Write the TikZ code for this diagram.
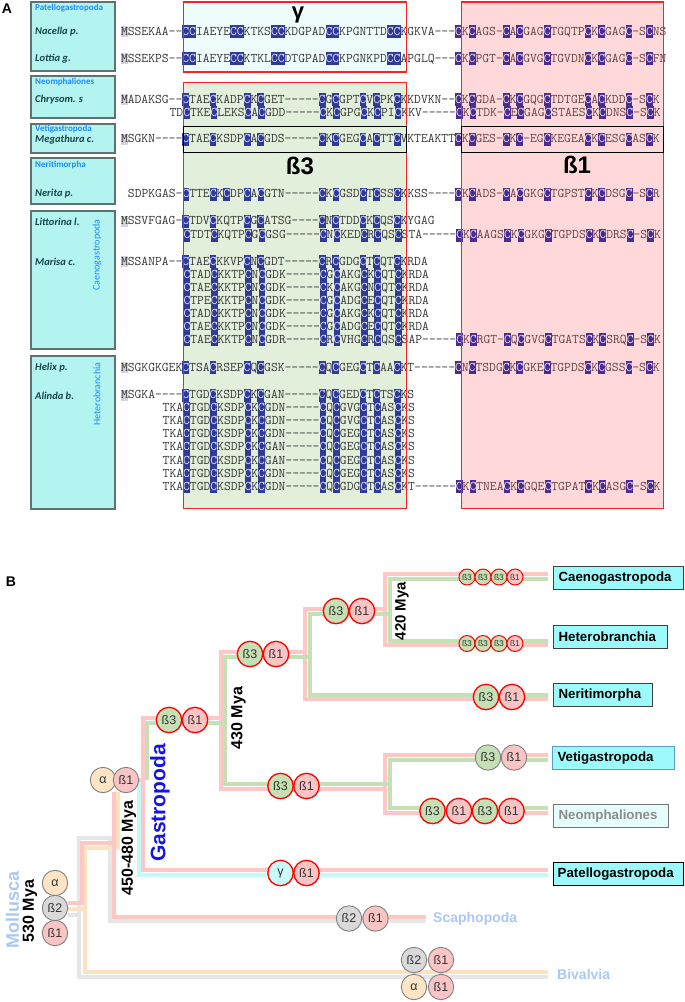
\documentclass[tikz,border=0pt]{standalone}
\usepackage{fontspec}
\setmainfont{Liberation Sans}
\newfontfamily\carl{Carlito}
\usetikzlibrary{positioning}
\definecolor{seqgray}{HTML}{363636}
\definecolor{seqbone}{HTML}{6A3F3F}
\definecolor{hlblue}{HTML}{2E3A96}
\definecolor{hlpurp}{HTML}{4B2C8E}
\definecolor{hltext}{HTML}{E6E6FF}
\definecolor{hlgray}{HTML}{D4D4D4}
\definecolor{gambg}{HTML}{EFFCFC}
\definecolor{bthreebg}{HTML}{E2EFDA}
\definecolor{bonebg}{HTML}{FFD9D9}
\definecolor{boxred}{HTML}{FF2020}
\definecolor{taxcyan}{HTML}{B3F4F0}
\definecolor{taxborder}{HTML}{5E7272}
\definecolor{grpblue}{HTML}{1E8CFF}
\definecolor{spcol}{HTML}{17444A}
\definecolor{lpink}{HTML}{FFC6C6}
\definecolor{lgreen}{HTML}{C5E0B4}
\definecolor{lcyan}{HTML}{C6FAFA}
\definecolor{lgray}{HTML}{E6E6E6}
\definecolor{lorange}{HTML}{FDE2C2}
\definecolor{cgreen}{HTML}{C5E0B4}
\definecolor{cpink}{HTML}{F9C4C4}
\definecolor{cgray}{HTML}{D9D9D9}
\definecolor{corange}{HTML}{FCE4C4}
\definecolor{ccyan}{HTML}{C9FAFA}
\definecolor{mollblue}{HTML}{A9C8F5}
\definecolor{gastblue}{HTML}{1414E6}
\definecolor{lblcyan}{HTML}{9CFAFA}
\definecolor{lblpale}{HTML}{E6FDFD}
\definecolor{vetiborder}{HTML}{5B9BD5}

\makeatletter
\def\sqC{C}\def\sqm{m}\def\sqbang{!}
\newcommand\hlC[1]{{\setlength{\fboxsep}{0pt}\colorbox{#1}{\rule[-3pt]{0pt}{13pt}\textcolor{hltext}{C}}}}
\newcommand\hlM{{\setlength{\fboxsep}{0pt}\colorbox{hlgray}{\rule[-2pt]{0pt}{11pt}M}}}
\newcommand\seqtxt[1]{{\ttfamily\fontsize{13.24}{13}\selectfont\color{seqgray}\def\sq@hl{hlblue}\@tfor\sq@c:=#1\do{\sq@char}}}
\def\sq@char{\ifx\sq@c\sqC\hlC{\sq@hl}\else\ifx\sq@c\sqm\hlM\else\ifx\sq@c\sqbang\def\sq@hl{hlpurp}\color{seqbone}\else\sq@c\kern0pt\fi\fi\fi}
\makeatother

\begin{document}
\begin{tikzpicture}[x=1pt,y=-1pt,
  seqn/.style={anchor=base west, inner sep=0pt, outer sep=0pt},
  taxbox/.style={draw=taxborder, fill=taxcyan, line width=1.3pt},
  redbox/.style={draw=boxred, line width=1.8pt},
  blackbox/.style={draw=black, line width=1.6pt},
  grp/.style={anchor=west, inner sep=0pt, text=grpblue, font=\carl\bfseries\fontsize{9}{10}\selectfont},
  spc/.style={anchor=west, inner sep=0pt, text=spcol, font=\carl\bfseries\itshape\fontsize{10.5}{12}\selectfont},
  rotgrp/.style={rotate=90, inner sep=0pt, text=grpblue, font=\carl\fontsize{10}{11}\selectfont},
  regionlbl/.style={inner sep=0pt, font=\bfseries\fontsize{24}{26}\selectfont},
  panellbl/.style={inner sep=0pt, font=\bfseries\fontsize{14}{15}\selectfont},
  circ/.style={circle, minimum size=25.4pt, inner sep=0pt, text=black!80, font=\fontsize{12.5}{13}\selectfont},
  cr/.style={circ, draw=red, line width=1.3pt},
  cg/.style={circ, draw=black!50, line width=0.9pt},
  smallc/.style={minimum size=16pt, font=\fontsize{8.5}{9}\selectfont, line width=1pt},
  fbt/.style={fill=cgreen}, fbo/.style={fill=cpink}, fbw/.style={fill=cgray},
  fal/.style={fill=corange}, fgm/.style={fill=ccyan},
  tl/.style={line width=4.6pt, line cap=butt, line join=miter},
  tlbl/.style={anchor=north west, fill=lblcyan, draw=black!75, line width=1pt,
    inner xsep=5pt, inner ysep=0pt, minimum height=23pt, align=left,
    font=\bfseries\fontsize{13.3}{14}\selectfont},
  mya/.style={rotate=90, inner sep=0pt, font=\bfseries\fontsize{16}{17}\selectfont},
  outlbl/.style={anchor=west, inner sep=0pt, text=mollblue, font=\bfseries\fontsize{14}{15}\selectfont}
]
\useasboundingbox (0,0) rectangle (685,1002);

% ================= Panel A =================
\node[panellbl] (A) at (7,9) {A};

% taxon boxes
\draw[taxbox] (31,2) rectangle (115,71);
\draw[taxbox] (31,76) rectangle (115,118);
\draw[taxbox] (31,124) rectangle (115,153);
\draw[taxbox] (31,158) rectangle (115,204);
\draw[taxbox] (31,211) rectangle (115,349);
\draw[taxbox] (31,356) rectangle (115,509);

\node[grp] (gpat) at (35,8.5) {Patellogastropoda};
\node[spc] (nac) at (35,31.5) {Nacella p.};
\node[spc] (lot) at (35,58.5) {Lottia g.};
\node[grp] (gneo) at (35,82.5) {Neomphaliones};
\node[spc] (chr) at (35,99.5) {Chrysom. s};
\node[grp] (gvet) at (35,129) {Vetigastropoda};
\node[spc] (meg) at (35,139.5) {Megathura c.};
\node[grp] (gner) at (35,165) {Neritimorpha};
\node[spc] (ner) at (35,194) {Nerita p.};
\node[spc] (lit) at (35,221.5) {Littorina l.};
\node[spc] (mar) at (35,262) {Marisa c.};
\node[rotgrp] (gcae) at (97,255) {Caenogastropoda};
\node[spc] (hel) at (35,368) {Helix p.};
\node[spc] (ali) at (35,395.5) {Alinda b.};
\node[rotgrp] (ghet) at (97,394) {Heterobranchia};

% region fills
\fill[gambg] (183.5,2) rectangle (406.5,72);
\fill[bthreebg] (183.5,82.5) rectangle (406.5,508.5);
\fill[bonebg] (461.5,2) rectangle (663.5,508.5);

% sequences
\node[seqn] (s1) at (121,35) {\seqtxt{mSSEKAA--CCIAEYECCKTKSCCKDGPADCCKPGNTTDCCKGKVA---!CKCAGS-CACGAGCTGQTPCKCGAGC-SCNS}};
\node[seqn] (s2) at (121,62) {\seqtxt{mSSEKPS--CCIAEYECCKTKLCCDTGPADCCKPGNKPDCCAPGLQ---!CKCPGT-CACGVGCTGVDNCKCGAGC-SCFN}};
\node[seqn] (s3) at (121,103) {\seqtxt{mADAKSG--CTAECKADPCKCGET-----CGCGPTCVCPKCKKDVKN--!CKCGDA-CKCGQGCTDTGECACKDDC-SCK}};
\node[seqn] (s4) at (169.65,116) {\seqtxt{TDCTKECLEKSCACGDD-----CKCGPGCKCPICKKV-----!CKCTDK-CECGAGCSTAESCKCDNSC-SCK}};
\node[seqn] (s5) at (121,142.8) {\seqtxt{mSGKN----CTAECKSDPCACGDS-----CKCGEGCACTTCVKTEAKTT!CKCGES-CKC-EGCKEGEACKCESGCASCK}};
\node[seqn] (s6) at (127.95,197.5) {\seqtxt{SDPKGAS-CTTECKCDPCACGTN-----CKCGSDCTCSSCKKSS----!CKCADS-CACGKGCTGPSTCKCDSGC-SCR}};
\node[seqn] (s7) at (121,224.5) {\seqtxt{mSSVFGAG-CTDVCKQTPCGCATSG----CNCTDDCKCQSCKYGAG}};
\node[seqn] (s8) at (183.55,238.5) {\seqtxt{CTDTCKQTPCGCGSG-----CNCKEDCRCQSCSTA-----!CKCAAGSCKCGKGCTGPDSCKCDRSC-SCK}};
\node[seqn] (s9) at (121,265.2) {\seqtxt{mSSANPA--CTAECKKVPCNCGDT-----CRCGDGCTCQTCKRDA}};
\node[seqn] (s10) at (183.55,278.2) {\seqtxt{CTADCKKTPCNCGDK-----CGCAKGCKCQTCKRDA}};
\node[seqn] (s11) at (183.55,291.2) {\seqtxt{CTAECKKTPCNCGDK-----CKCAKGCNCQTCKRDA}};
\node[seqn] (s12) at (183.55,304.2) {\seqtxt{CTPECKKTPCNCGDK-----CGCADGCECQTCKRDA}};
\node[seqn] (s13) at (183.55,317.2) {\seqtxt{CTADCKKTPCNCGDK-----CGCAKGCKCQTCKRDA}};
\node[seqn] (s14) at (183.55,330.2) {\seqtxt{CTAECKKTPCNCGDK-----CGCADGCECQTCKRDA}};
\node[seqn] (s15) at (183.55,343.2) {\seqtxt{CTAECKKTPCNCGDR-----CRCVHGCRCQSCSAP-----!CKCRGT-CQCGVGCTGATSCKCSRQC-SCK}};
\node[seqn] (s16) at (121,371.2) {\seqtxt{mSGKGKGEKCTSACRSEPCQCGSK-----CQCGEGCTCAACKT------!CNCTSDGCKCGKECTGPDSCKCGSSC-SCK}};
\node[seqn] (s17) at (121,398.5) {\seqtxt{mSGKA----CTGDCKSDPCKCGAN-----CQCGEDCTCTSCKS}};
\node[seqn] (s18) at (162.7,411.6) {\seqtxt{TKACTGDCKSDPCKCGDN-----CQCGVGCTCASCKS}};
\node[seqn] (s19) at (162.7,424.7) {\seqtxt{TKACTGDCKSDPCKCGDN-----CQCGVGCTCASCKS}};
\node[seqn] (s20) at (162.7,437.8) {\seqtxt{TKACTGDCKSDPCKCGDN-----CQCGEGCTCASCKS}};
\node[seqn] (s21) at (162.7,450.9) {\seqtxt{TKACTGDCKSDPCKCGAN-----CQCGEGCTCASCKS}};
\node[seqn] (s22) at (162.7,464) {\seqtxt{TKACTGDCKSDPCKCGAN-----CQCGEGCTCASCKS}};
\node[seqn] (s23) at (162.7,477.1) {\seqtxt{TKACTGDCKSDPCKCGDN-----CQCGEGCTCASCKS}};
\node[seqn] (s24) at (162.7,490.2) {\seqtxt{TKACTGDCKSDPCKCGDN-----CQCGDGCTCASCKT------!CKCTNEACKCGQECTGPATCKCASGC-SCK}};

% region borders
\draw[redbox] (183.5,2) rectangle (406.5,72);
\draw[redbox] (183.5,82.5) rectangle (406.5,508.5);
\draw[redbox] (461.5,2) rectangle (663.5,508.5);
\draw[blackbox] (183.5,126.5) rectangle (406.5,152.5);
\draw[blackbox] (461.5,126.5) rectangle (663.5,152.5);

\node[regionlbl, font=\bfseries\fontsize{22}{24}\selectfont] (lgam) at (298,15) {γ};
\node[regionlbl] (lbthree) at (300,166) {ß3};
\node[regionlbl] (lbone) at (577,165) {ß1};

% ================= Panel B =================
\node[panellbl] (B) at (11,582) {B};

% root region lines
\draw[tl, lgray] (68,915) -- (79,915) -- (79,838) -- (110,838) -- (110,921) -- (426,921);
\draw[tl, lgray] (79,915) -- (79,977) -- (548,977);
\draw[tl, lorange] (68,909) -- (85,909) -- (85,848) -- (118,848) -- (118,792);
\draw[tl, lorange] (85,909) -- (85,972) -- (548,972);
\draw[tl, lpink] (68,903) -- (82,903) -- (82,843) -- (114,843) -- (114,792);
\draw[tl, lpink] (114,843) -- (114,917) -- (426,917);

% gastropod lines
\draw[tl, lcyan] (139,780) -- (139,875) -- (548,875);
\draw[tl, lpink] (126,780) -- (143,780);
\draw[tl, lpink] (548,870) -- (143,870) -- (143,718) -- (221,718);
\draw[tl, lpink] (305,652) -- (221,652) -- (221,789) -- (385,789);
\draw[tl, lpink] (548,699) -- (305,699) -- (305,609) -- (385,609);
\draw[tl, lpink] (548,574) -- (385,574) -- (385,645) -- (548,645);
\draw[tl, lpink] (548,755) -- (385,755) -- (385,813) -- (548,813);
\draw[tl, lgreen] (147,780) -- (147,723) -- (225,723);
\draw[tl, lgreen] (310,657) -- (225,657) -- (225,784) -- (390,784);
\draw[tl, lgreen] (548,695) -- (310,695) -- (310,614) -- (390,614);
\draw[tl, lgreen] (548,579) -- (390,579) -- (390,641) -- (548,641);
\draw[tl, lgreen] (548,760) -- (390,760) -- (390,808) -- (548,808);

% circles
\node[cg, fal] (ra) at (55,883) {α};
\node[cg, fbw] (rbw) at (55,908) {ß2};
\node[cg, fbo] (rbo) at (55,933) {ß1};
\node[cg, fal] (na) at (103,780) {α};
\node[cg, fbo] (nbo) at (126,780) {ß1};
\node[cr, fbt] (gbt) at (169,720) {ß3};
\node[cr, fbo] (gbo) at (195,720) {ß1};
\node[cr, fbt] (ubt) at (250,654) {ß3};
\node[cr, fbo] (ubo) at (276,654) {ß1};
\node[cr, fbt] (lbt) at (280.5,786) {ß3};
\node[cr, fbo] (lbo) at (306.5,786) {ß1};
\node[cr, fbt] (tbt) at (336,611) {ß3};
\node[cr, fbo] (tbo) at (362,611) {ß1};
\node[cr, smallc, fbt] (ca1) at (467,577) {ß3};
\node[cr, smallc, fbt] (ca2) at (483,577) {ß3};
\node[cr, smallc, fbt] (ca3) at (499,577) {ß3};
\node[cr, smallc, fbo] (ca4) at (515,577) {ß1};
\node[cr, smallc, fbt] (he1) at (467,643.5) {ß3};
\node[cr, smallc, fbt] (he2) at (483,643.5) {ß3};
\node[cr, smallc, fbt] (he3) at (499,643.5) {ß3};
\node[cr, smallc, fbo] (he4) at (515,643.5) {ß1};
\node[cr, fbt] (nebt) at (486,697) {ß3};
\node[cr, fbo] (nebo) at (512,697) {ß1};
\node[cg, fbt] (vebt) at (488,757.5) {ß3};
\node[cg, fbo] (vebo) at (514,757.5) {ß1};
\node[cr, fbt] (nm1) at (432.5,811) {ß3};
\node[cr, fbo] (nm2) at (459,811) {ß1};
\node[cr, fbt] (nm3) at (485,811) {ß3};
\node[cr, fbo] (nm4) at (511.5,811) {ß1};
\node[cr, fgm] (pg) at (280.5,873) {γ};
\node[cr, fbo] (pbo) at (306.5,873) {ß1};
\node[cg, fbw] (sbw) at (349,918.5) {ß2};
\node[cg, fbo] (sbo) at (375.5,918.5) {ß1};
\node[cg, fbw] (bv1) at (414,960) {ß2};
\node[cg, fbo] (bv2) at (441,960) {ß1};
\node[cg, fal] (bv3) at (414,987) {α};
\node[cg, fbo] (bv4) at (441,987) {ß1};

% rotated labels
\node[rotate=90, inner sep=0pt, text=mollblue, font=\bfseries\fontsize{18}{19}\selectfont] (moll) at (12.5,910) {Mollusca};
\node[mya] (m530) at (30,911) {530 Mya};
\node[mya] (m450) at (129,848) {450-480 Mya};
\node[rotate=90, inner sep=0pt, text=gastblue, font=\bfseries\fontsize{21}{22}\selectfont] (gastro) at (160,803) {Gastropoda};
\node[mya] (m430) at (238.5,718) {430 Mya};
\node[mya, font=\bfseries\fontsize{15}{16}\selectfont] (m420) at (402,611) {420 Mya};

% clade label boxes
\node[tlbl, text width=120pt] (tcae) at (553,566) {Caenogastropoda};
\node[tlbl, text width=104pt] (thet) at (553,625) {Heterobranchia};
\node[tlbl, text width=89pt] (tner) at (553,683) {Neritimorpha};
\node[tlbl, text width=112pt, draw=vetiborder] (tvet) at (552,746) {Vetigastropoda};
\node[tlbl, text width=105pt, fill=lblpale, draw=black!55, text=black!45] (tneo) at (553,804) {Neomphaliones};
\node[tlbl, text width=122pt, inner xsep=4pt, draw=black, line width=1.4pt] (tpat) at (553,862) {Patellogastropoda};
\node[outlbl] (scaph) at (433,918.5) {Scaphopoda};
\node[outlbl] (biv) at (557,974) {Bivalvia};
\end{tikzpicture}
\end{document}
